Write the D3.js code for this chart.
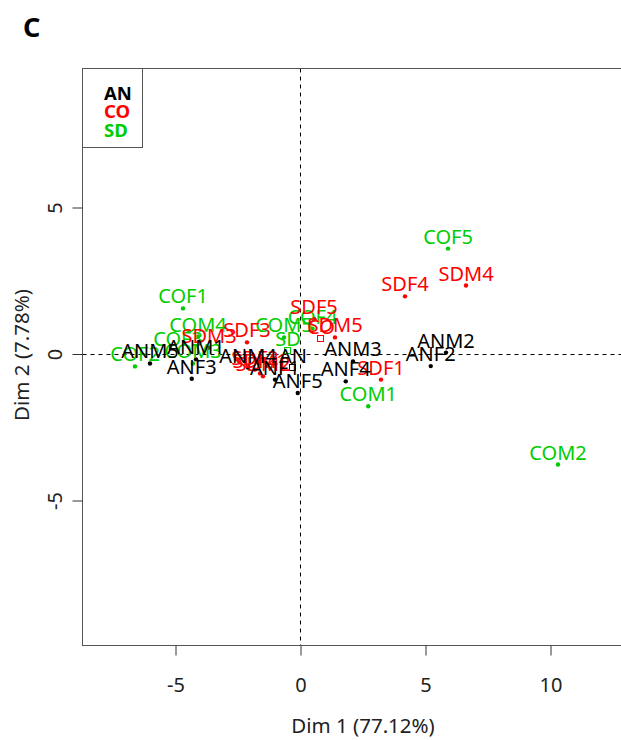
<!DOCTYPE html>
<html>
<head>
<meta charset="utf-8">
<script src="https://cdn.jsdelivr.net/npm/d3@7"></script>
<style>
  body { margin: 0; background: #fff; }
  text { font-family: "Noto Sans", sans-serif; }
</style>
</head>
<body>
<svg id="chart" width="621" height="740"></svg>
<script>
// individuals
const anNames = ["ANF1", "ANF2", "ANF3", "ANF4", "ANF5", "ANM1", "ANM2", "ANM3", "ANM4", "ANM5"];
const anDim1 = [-1.0, 5.23, -4.33, 1.83, -0.09, -4.16, 5.84, 2.12, -2.08, -6.0];
const anDim2 = [-0.89, -0.43, -0.86, -0.95, -1.35, -0.2, 0.03, -0.27, -0.48, -0.34];

const coNames = ["COF1", "COF2", "COF3", "COF4", "COF5", "COM1", "COM2", "COM3", "COM4", "COM5"];
const coDim1 = [-4.68, -6.6, -4.88, 0.5, 5.92, 2.73, 10.32, -4.28, -4.08, -0.64];
const coDim2 = [1.54, -0.44, 0.1, 0.85, 3.58, -1.8, -3.79, -0.34, 0.58, 0.55];

const sdNames = ["SDF1", "SDF2", "SDF3", "SDF4", "SDF5", "SDM1", "SDM2", "SDM3", "SDM4", "SDM5"];
const sdDim1 = [3.24, -1.8, -2.12, 4.2, 0.56, -1.6, -1.48, -3.64, 6.64, 1.4];
const sdDim2 = [-0.89, -0.55, 0.38, 1.95, 1.19, -0.68, -0.78, 0.2, 2.32, 0.55];

// group centres (open squares)
const centreNames = ["AN", "CO", "SD"];
const centreDim1 = [-0.28, 0.84, -0.48];
const centreDim2 = [-0.48, 0.51, 0.07];

const legendLabels = ["AN", "CO", "SD"];
const xTicks = [-5, 0, 5, 10];
const yTicks = [-5, 0, 5];

const BLACK = "#000000", RED = "#ff0000", GREEN = "#00cd00";

const svg = d3.select("#chart");

const x = d3.scaleLinear().domain([-5, 10]).range([175, 550]);
const y = d3.scaleLinear().domain([-5, 5]).range([500, 207]);

const plot = { left: 82.5, top: 68.5, right: 645, bottom: 645.5 };

// panel letter
svg.append("text")
  .attr("x", 23)
  .attr("y", 37)
  .attr("font-size", 27)
  .attr("font-weight", "bold")
  .text("C");

// dashed zero lines
svg.append("line")
  .attr("x1", plot.left).attr("x2", plot.right)
  .attr("y1", Math.round(y(0)) + 0.5).attr("y2", Math.round(y(0)) + 0.5)
  .attr("stroke", "#000").attr("stroke-dasharray", "4,4");
svg.append("line")
  .attr("x1", Math.round(x(0)) + 0.5).attr("x2", Math.round(x(0)) + 0.5)
  .attr("y1", plot.top).attr("y2", plot.bottom)
  .attr("stroke", "#000").attr("stroke-dasharray", "4,4");

function toRows(names, d1, d2, color) {
  return names.map((n, i) => ({ name: n, d1: d1[i], d2: d2[i], color: color }));
}

// drawing order: green, red, then black on top
const individuals = []
  .concat(toRows(coNames, coDim1, coDim2, GREEN))
  .concat(toRows(sdNames, sdDim1, sdDim2, RED))
  .concat(toRows(anNames, anDim1, anDim2, BLACK));

const centres = toRows(centreNames, centreDim1, centreDim2, null);
centres[0].color = BLACK;
centres[1].color = RED;
centres[2].color = GREEN;

svg.append("g")
  .selectAll("circle")
  .data(individuals)
  .enter()
  .append("circle")
  .attr("cx", d => x(d.d1))
  .attr("cy", d => y(d.d2))
  .attr("r", 2.2)
  .attr("fill", d => d.color);

svg.append("g")
  .selectAll("rect")
  .data(centres)
  .enter()
  .append("rect")
  .attr("x", d => Math.round(x(d.d1)) - 3.5)
  .attr("y", d => Math.round(y(d.d2)) - 3.5)
  .attr("width", 6)
  .attr("height", 6)
  .attr("fill", "none")
  .attr("stroke", d => d.color);

// labels sit above their point (pos = 3)
svg.append("g")
  .selectAll("text")
  .data(individuals.concat(centres))
  .enter()
  .append("text")
  .attr("x", d => x(d.d1))
  .attr("y", d => y(d.d2) - 5)
  .attr("text-anchor", "middle")
  .attr("font-size", 20)
  .attr("fill", d => d.color)
  .text(d => d.name);

// box
svg.append("rect")
  .attr("x", plot.left).attr("y", plot.top)
  .attr("width", plot.right - plot.left).attr("height", plot.bottom - plot.top)
  .attr("fill", "none").attr("stroke", "#555");

// axes
const xAxis = d3.axisBottom(x).tickValues(xTicks).tickSize(10).tickPadding(0).tickFormat(d3.format("d"));
const gx = svg.append("g")
  .attr("transform", `translate(0.5, ${plot.bottom})`)
  .call(xAxis);
gx.select(".domain").remove();
gx.selectAll("line").attr("stroke", "#333");
gx.selectAll("text")
  .attr("y", 46)
  .attr("dy", 0)
  .attr("font-size", 20)
  .attr("font-family", "Noto Sans")
  .attr("fill", "#222")
  .text(d => d < 0 ? "-" + Math.abs(d) : d);

const yAxis = d3.axisLeft(y).tickValues(yTicks).tickSize(10).tickFormat(d3.format("d"));
const gy = svg.append("g")
  .attr("transform", `translate(${plot.left}, 0.5)`)
  .call(yAxis);
gy.select(".domain").remove();
gy.selectAll("line").attr("stroke", "#333");
gy.selectAll("text")
  .attr("transform", "rotate(-90)")
  .attr("x", 0)
  .attr("y", -20.5)
  .attr("dy", 0)
  .attr("text-anchor", "middle")
  .attr("font-size", 20)
  .attr("font-family", "Noto Sans")
  .attr("fill", "#222")
  .text(d => d < 0 ? "-" + Math.abs(d) : d);

svg.append("text")
  .attr("x", 363)
  .attr("y", 733)
  .attr("text-anchor", "middle")
  .attr("font-size", 20.5)
  .attr("fill", "#222")
  .text("Dim 1 (77.12%)");

svg.append("text")
  .attr("transform", "translate(29, 355) rotate(-90)")
  .attr("text-anchor", "middle")
  .attr("font-size", 20.5)
  .attr("fill", "#222")
  .text("Dim 2 (7.78%)");

// legend
const legendColors = [BLACK, RED, GREEN];
svg.append("rect")
  .attr("x", plot.left).attr("y", plot.top)
  .attr("width", 60).attr("height", 79)
  .attr("fill", "#fff").attr("stroke", "#555");
svg.append("g")
  .selectAll("text")
  .data(legendLabels)
  .enter()
  .append("text")
  .attr("x", 104)
  .attr("y", (d, i) => 100 + i * 18.3)
  .attr("font-size", 18.5)
  .attr("font-weight", "bold")
  .attr("fill", (d, i) => legendColors[i])
  .text(d => d);
</script>
</body>
</html>
